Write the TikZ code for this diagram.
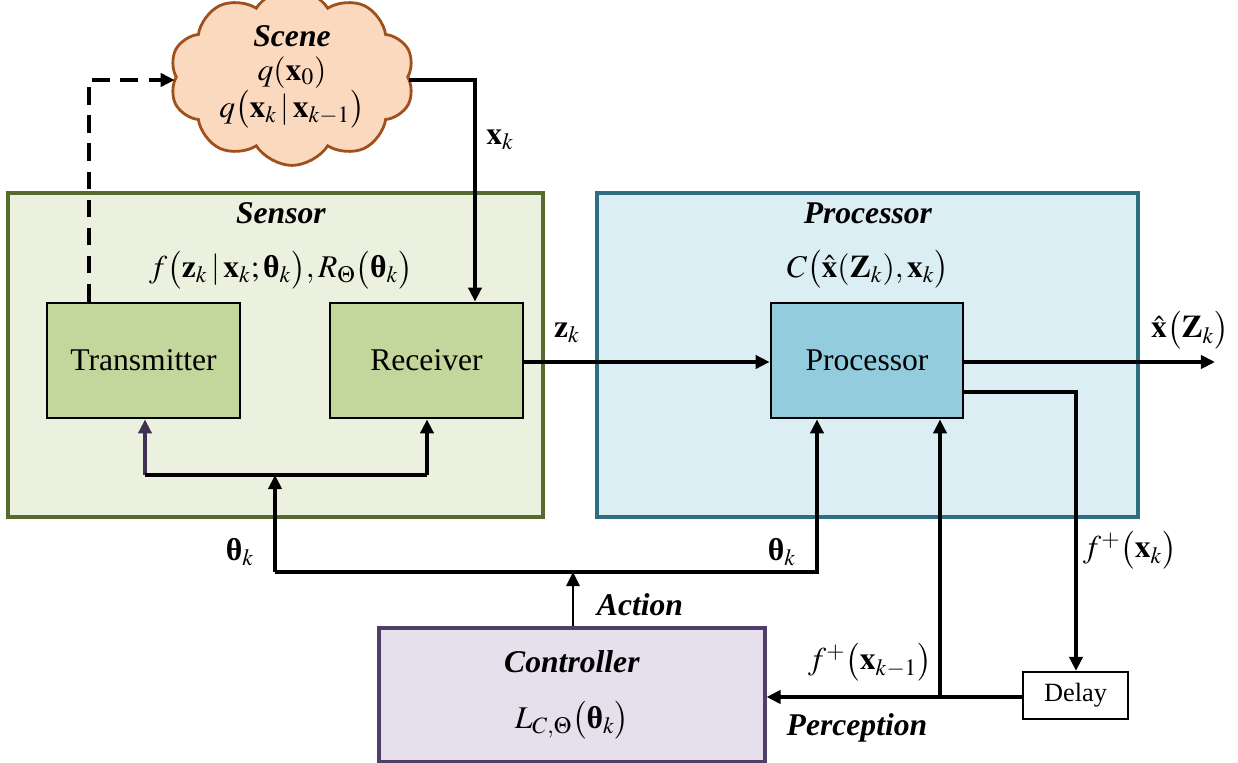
\documentclass[tikz,border=0pt]{standalone}
\usepackage{amsmath}
\usepackage{mathptmx}
\usepackage{fontspec}
\setmainfont{Liberation Serif}
\usetikzlibrary{arrows.meta,shapes.symbols,calc}
\newcommand{\bth}{\text{\normalfont\bfseries θ}}
\definecolor{sensfill}{HTML}{EBF1DE}
\definecolor{sensdraw}{HTML}{566B2E}
\definecolor{txfill}{HTML}{C3D69B}
\definecolor{procfill}{HTML}{DBEEF4}
\definecolor{procdraw}{HTML}{2F6E80}
\definecolor{pinfill}{HTML}{93CDDD}
\definecolor{ctrlfill}{HTML}{E5E0EC}
\definecolor{ctrldraw}{HTML}{4E3E68}
\definecolor{cloudfill}{HTML}{FBD9BF}
\definecolor{clouddraw}{HTML}{A0501A}
\definecolor{arrpurple}{HTML}{403152}
\tikzset{
  outerbox/.style={draw, line width=1.8pt, inner sep=0pt},
  blockbox/.style={draw=black, line width=1.6pt, inner sep=0pt, minimum width=3.86cm, minimum height=2.3cm, font=\fontsize{18}{20}\selectfont},
  tip/.style={-{Triangle[length=8pt,width=7.5pt]}},
  conn/.style={line width=2pt, tip},
  plain/.style={line width=2pt},
  lbl/.style={inner sep=0pt, font=\fontsize{18}{20}\selectfont},
  title/.style={inner sep=0pt, font=\fontsize{18}{20}\selectfont\bfseries\itshape},
  headtext/.style={inner sep=0pt, align=center, font=\fontsize{18}{20}\selectfont},
}
\begin{document}
\begin{tikzpicture}[x=0.02cm,y=-0.02cm]
\useasboundingbox (0,0) rectangle (1238,763);
% outer boxes
\node[outerbox, draw=sensdraw, fill=sensfill, minimum width=10.7cm, minimum height=6.48cm] (sensor) at (275.5,355) {};
\node[outerbox, draw=procdraw, fill=procfill, minimum width=10.82cm, minimum height=6.48cm] (proc) at (867.5,355) {};
\node[headtext, anchor=north] (senst) at (281,202) {\textbf{\textit{Sensor}}\\[11pt]$f\bigl(\mathbf{z}_k\,|\,\mathbf{x}_k;\bth_k\bigr),R_{\Theta}\bigl(\bth_k\bigr)$};
\node[headtext, anchor=north] (proct) at (868,202) {\textbf{\textit{Processor}}\\[11pt]$C\bigl(\hat{\mathbf{x}}(\mathbf{Z}_k),\mathbf{x}_k\bigr)$};
% blocks
\node[blockbox, fill=txfill] (tx) at (143.5,360.5) {Transmitter};
\node[blockbox, fill=txfill] (rx) at (426.5,360.5) {Receiver};
\node[blockbox, fill=pinfill, minimum width=3.84cm] (pin) at (867,360.5) {Processor};
\node[draw=ctrldraw, fill=ctrlfill, line width=1.8pt, inner sep=0pt, minimum width=7.72cm, minimum height=2.68cm, align=center, font=\fontsize{18}{20}\selectfont] (ctrl) at (572,695) {\textbf{\textit{Controller}}\\[12pt]$L_{C,\Theta}\bigl(\bth_k\bigr)$};
\node[draw=black, fill=white, line width=1.3pt, inner sep=0pt, minimum width=2.1cm, minimum height=0.94cm, font=\fontsize{15}{17}\selectfont] (delay) at (1075.5,695.5) {Delay};
% cloud
\node[cloud, cloud puffs=10, cloud puff arc=115, aspect=1.6, draw=clouddraw, fill=cloudfill, line width=1.6pt, minimum width=4.54cm, minimum height=2.9cm, inner sep=0pt, align=center, font=\fontsize{18}{20}\selectfont] (scene) at (292,77) {\textbf{\textit{Scene}}\\[-1pt]$q(\mathbf{x}_0)$\\[1pt]$q\bigl(\mathbf{x}_k\,|\,\mathbf{x}_{k-1}\bigr)$};
% helper coordinates
\coordinate (dsh) at (89,80);
\coordinate (xk) at (475,80);
\coordinate (sj) at (275,475);
\coordinate (tl) at (145,475);
\coordinate (rl) at (427,475);
\coordinate (thl) at (275,572);
\coordinate (thr) at (817,572);
\coordinate (act) at (573,572);
\coordinate (pout) at (1215,362);
\coordinate (plow) at (963,392);
\coordinate (pcor) at (1076,392);
\coordinate (pj) at (940,697);
% connectors
\draw[conn, dash pattern=on 10pt off 6pt] (tx.north -| dsh) -- (dsh) -- (scene.west |- dsh);
\draw[conn] (scene.east |- xk) -- (xk) -- (rx.north -| xk);
\draw[conn] (rx.east |- pout) -- (pin.west |- pout);
\draw[conn] (pin.east |- pout) -- (pout);
\draw[conn] (plow) -- (pcor) -- (delay.north -| pcor);
\draw[conn] (delay.west |- pj) -- (ctrl.east |- pj);
\draw[conn] (pj) -- (pin.south -| pj);
\draw[conn] (thl) -- (thr) -- (pin.south -| thr);
\draw[conn] (thl) -- (sj);
\draw[conn, draw=arrpurple] (tl) -- (tx.south -| tl);
\draw[plain] (tl) -- (rl);
\draw[conn] (rl) -- (rx.south -| rl);
\draw[line width=1.3pt, tip] (ctrl.north -| act) -- (act);
% labels
\node[lbl] (lxk) at (500,140) {$\mathbf{x}_k$};
\node[lbl] (lzk) at (567,333) {$\mathbf{z}_k$};
\node[lbl] (lout) at (1190,330) {$\hat{\mathbf{x}}\bigl(\mathbf{Z}_k\bigr)$};
\node[lbl] (lth1) at (240,552) {$\bth_k$};
\node[lbl] (lth2) at (782,552) {$\bth_k$};
\node[title] (lact) at (640,605) {Action};
\node[title] (lper) at (857,728) {Perception};
\node[lbl] (lfk1) at (870,662) {$f^{+}\bigl(\mathbf{x}_{k-1}\bigr)$};
\node[lbl] (lfk) at (1130,550) {$f^{+}\bigl(\mathbf{x}_k\bigr)$};
\end{tikzpicture}
\end{document}
